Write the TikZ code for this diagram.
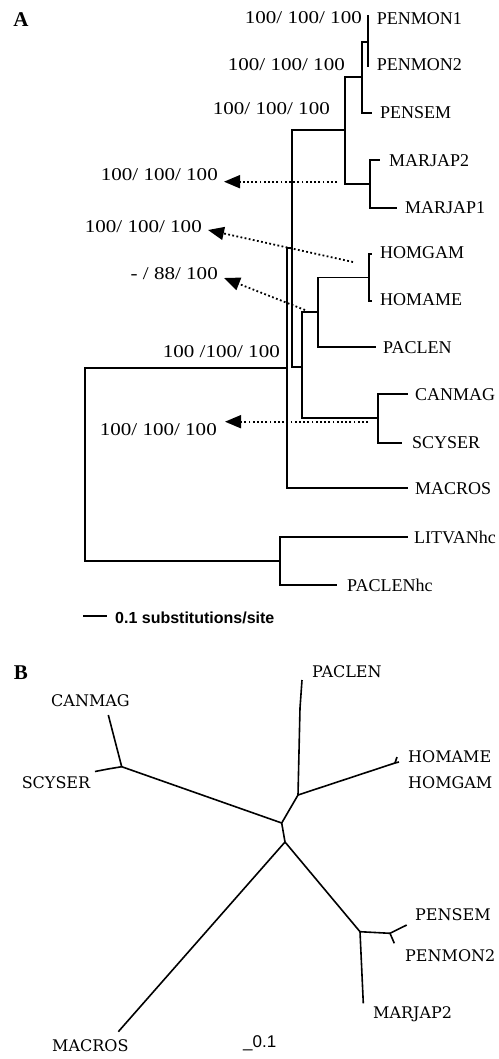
\documentclass[tikz,border=0pt]{standalone}
\usepackage{fontspec}
\setmainfont{Liberation Serif}
\newfontfamily\numfont[FakeStretch=1.17]{Liberation Serif}
\newfontfamily\treebfont{DejaVu Serif}
\newfontfamily\scalefont{Liberation Sans}
\usetikzlibrary{arrows.meta}
\begin{document}
\begin{tikzpicture}[x=1pt,y=-1pt,
  br/.style={line width=1.8pt},
  ubr/.style={line width=1.6pt, line join=round},
  taxa/.style={anchor=west, inner sep=0pt, font=\fontsize{18}{20}\selectfont},
  boot/.style={anchor=east, inner sep=0pt, font=\numfont\fontsize{18}{20}\selectfont},
  taxb/.style={inner sep=0pt, font=\treebfont\fontsize{16}{18}\selectfont},
  panel/.style={inner sep=0pt, font=\bfseries\fontsize{21}{23}\selectfont},
  dotarrow/.style={line width=1.8pt, dash pattern=on 1.8pt off 2.4pt, -{Triangle[length=16pt,width=13pt]}}
]
\useasboundingbox (0,0) rectangle (498,1059);

% ---------------- Panel A ----------------
\node[panel] (pA) at (21,20) {A};

% internal nodes
\coordinate (root) at (85,464);
\coordinate (ing) at (287,368);
\coordinate (n2) at (291.7,248);
\coordinate (top) at (345,130);
\coordinate (pen) at (362,77);
\coordinate (pm) at (368,41.7);
\coordinate (mar) at (370,184);
\coordinate (n3) at (301.7,366.7);
\coordinate (n4) at (318,312);
\coordinate (hom) at (369.3,277.5);
\coordinate (cs) at (378,418);
\coordinate (out) at (280,560.7);
% tips
\coordinate (tPM1) at (368,15);
\coordinate (tPM2) at (368,66.7);
\coordinate (tPS) at (372,113);
\coordinate (tMJ2) at (380,160);
\coordinate (tMJ1) at (397,208);
\coordinate (tHG) at (372,254);
\coordinate (tHA) at (372,301);
\coordinate (tPL) at (376,347.3);
\coordinate (tCM) at (408,394);
\coordinate (tSC) at (402,442.7);
\coordinate (tMC) at (408,488);
\coordinate (tLV) at (408,536.7);
\coordinate (tPH) at (337,585);

\draw[br] (root) |- (ing);
\draw[br] (root) |- (out);
\draw[br] (ing) |- (n2);
\draw[br] (ing) |- (tMC);
\draw[br] (n2) |- (top);
\draw[br] (n2) |- (n3);
\draw[br] (top) |- (pen);
\draw[br] (top) |- (mar);
\draw[br] (pen) |- (pm);
\draw[br] (pen) |- (tPS);
\draw[br] (pm) |- (tPM1);
\draw[br] (pm) |- (tPM2);
\draw[br] (mar) |- (tMJ2);
\draw[br] (mar) |- (tMJ1);
\draw[br] (n3) |- (n4);
\draw[br] (n3) |- (cs);
\draw[br] (n4) |- (hom);
\draw[br] (n4) |- (tPL);
\draw[br] (hom) |- (tHG);
\draw[br] (hom) |- (tHA);
\draw[br] (cs) |- (tCM);
\draw[br] (cs) |- (tSC);
\draw[br] (out) |- (tLV);
\draw[br] (out) |- (tPH);

% taxon labels
\node[taxa] (lPM1) at (376.7,18.3) {PENMON1};
\node[taxa] (lPM2) at (376.7,65) {PENMON2};
\node[taxa] (lPS) at (380,113) {PENSEM};
\node[taxa] (lMJ2) at (389,161) {MARJAP2};
\node[taxa] (lMJ1) at (405,208) {MARJAP1};
\node[taxa] (lHG) at (380,253) {HOMGAM};
\node[taxa] (lHA) at (380,300) {HOMAME};
\node[taxa] (lPL) at (383,348) {PACLEN};
\node[taxa] (lCM) at (415,395) {CANMAG};
\node[taxa] (lSC) at (412,443) {SCYSER};
\node[taxa] (lMC) at (415,489) {MACROS};
\node[taxa] (lLV) at (414,537) {LITVANhc};
\node[taxa] (lPH) at (347,585) {PACLENhc};

% support values
\node[boot] (b1) at (362,18) {100/ 100/ 100};
\node[boot] (b2) at (345,65) {100/ 100/ 100};
\node[boot] (b3) at (330,109) {100/ 100/ 100};
\node[boot] (b4) at (218,175) {100/ 100/ 100};
\node[boot] (b5) at (202,227) {100/ 100/ 100};
\node[boot] (b6) at (218,274) {- / 88/ 100};
\node[boot] (b7) at (280,352) {100 /100/ 100};
\node[boot] (b8) at (217,430) {100/ 100/ 100};

% dotted arrows
\coordinate (d4s) at (337,181.7); \coordinate (d4e) at (224,181.7);
\coordinate (d5s) at (353,262);   \coordinate (d5e) at (208,230);
\coordinate (d6s) at (305,310);   \coordinate (d6e) at (224,278);
\coordinate (d8s) at (368,421.7); \coordinate (d8e) at (225,421.7);
\draw[dotarrow] (d4s) -- (d4e);
\draw[dotarrow] (d5s) -- (d5e);
\draw[dotarrow] (d6s) -- (d6e);
\draw[dotarrow] (d8s) -- (d8e);

% scale bar
\coordinate (sb1) at (83,616);
\coordinate (sb2) at (107,616);
\draw[br] (sb1) -- (sb2);
\node[anchor=west, inner sep=0pt, font=\scalefont\bfseries\fontsize{16}{18}\selectfont] (sbt) at (115,618) {0.1 substitutions/site};

% ---------------- Panel B ----------------
\node[panel] (pB) at (21,673) {B};

\coordinate (bPACt) at (302,680);
\coordinate (bPACm) at (300,708);
\coordinate (bJ1) at (298,795);
\coordinate (bHOMt) at (395,763);
\coordinate (bHf1) at (397,757);
\coordinate (bHf2) at (399,762);
\coordinate (bJ2) at (281.7,823);
\coordinate (bCS) at (121.7,766.7);
\coordinate (bCMt) at (108.3,715);
\coordinate (bSCm) at (108,769);
\coordinate (bSCt) at (95,771.5);
\coordinate (bJ3) at (285,842);
\coordinate (bMCt) at (118.3,1031.7);
\coordinate (bMP) at (360,931.7);
\coordinate (bMJt) at (363.3,1003.3);
\coordinate (bPEN) at (390,933.3);
\coordinate (bPSt) at (406.7,925);
\coordinate (bPMt) at (394.3,943.3);

\draw[ubr] (bPACt) -- (bPACm) -- (bJ1);
\draw[ubr] (bJ1) -- (bHOMt);
\draw[ubr] (bHOMt) -- (bHf1);
\draw[ubr] (bHOMt) -- (bHf2);
\draw[ubr] (bJ1) -- (bJ2);
\draw[ubr] (bJ2) -- (bCS);
\draw[ubr] (bCS) -- (bCMt);
\draw[ubr] (bCS) -- (bSCm) -- (bSCt);
\draw[ubr] (bJ2) -- (bJ3);
\draw[ubr] (bJ3) -- (bMCt);
\draw[ubr] (bJ3) -- (bMP);
\draw[ubr] (bMP) -- (bMJt);
\draw[ubr] (bMP) -- (bPEN);
\draw[ubr] (bPEN) -- (bPSt);
\draw[ubr] (bPEN) -- (bPMt);

\node[taxb, anchor=west] (uPAC) at (312,672) {PACLEN};
\node[taxb] (uCM) at (90.5,701) {CANMAG};
\node[taxb] (uSC) at (56,783) {SCYSER};
\node[taxb, anchor=west] (uHA) at (408,757) {HOMAME};
\node[taxb, anchor=west] (uHG) at (408,783) {HOMGAM};
\node[taxb, anchor=west] (uPS) at (415,915) {PENSEM};
\node[taxb, anchor=west] (uPM) at (405,956) {PENMON2};
\node[taxb, anchor=west] (uMJ) at (373,1014) {MARJAP2};
\node[taxb, anchor=west] (uMC) at (52,1046) {MACROS};
\node[anchor=west, inner sep=0pt, font=\scalefont\fontsize{17}{19}\selectfont] (uSB) at (243,1043) {\_0.1};
\end{tikzpicture}
\end{document}
